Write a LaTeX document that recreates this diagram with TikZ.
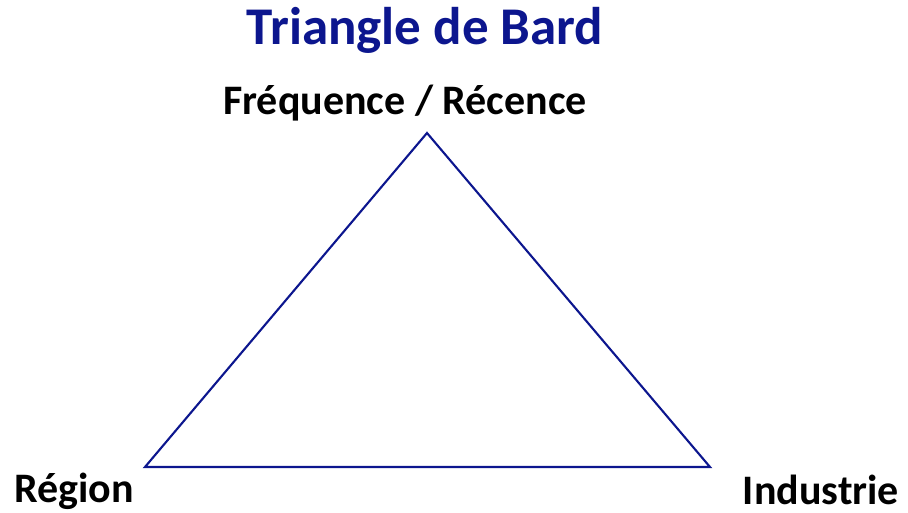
\documentclass[tikz,border=0pt]{standalone}
\usepackage{fontspec}
\setmainfont{Carlito}
\usepackage{tikz}
\usetikzlibrary{positioning}
\definecolor{bardBlue}{RGB}{12, 22, 142}

\begin{document}
\begin{tikzpicture}[
    x=1pt, y=-1pt,
    titre/.style={
        text=bardBlue,
        font=\fontsize{53}{60}\selectfont\bfseries,
        inner sep=0pt
    },
    sommet/.style={
        text=black,
        font=\fontsize{42}{48}\selectfont\bfseries,
        inner sep=0pt
    },
    cote/.style={
        draw=bardBlue,
        line width=2.1pt,
        line join=miter
    }
]
\useasboundingbox (0,0) rectangle (908,513);

\node[titre] (titre) at (425,30) {Triangle de Bard};

\coordinate (haut) at (427,133);
\coordinate (gauche) at (145,467);
\coordinate (droite) at (710,467);

\node[sommet] (frequence) at (405,103) {Fréquence / Récence};
\node[sommet] (region) at (74,491) {Région};
\node[sommet] (industrie) at (821,490) {Industrie};

\draw[cote] (haut) -- (gauche) -- (droite) -- cycle;

\end{tikzpicture}
\end{document}
